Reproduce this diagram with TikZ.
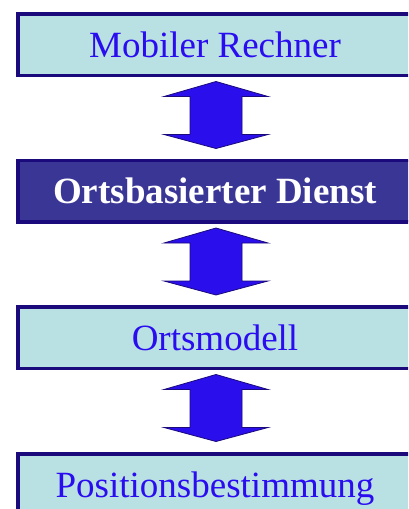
\documentclass[tikz,border=0pt]{standalone}
\usepackage{fontspec}
\setmainfont{Liberation Serif}
\usetikzlibrary{calc}
\definecolor{boxfill}{HTML}{B9E0E3}
\definecolor{boxline}{HTML}{1A0A7C}
\definecolor{txtblue}{HTML}{2A0CF0}
\definecolor{darkfill}{HTML}{3A3696}
\definecolor{arrfill}{HTML}{2A0EEC}
\tikzset{
  layer/.style={draw=boxline, line width=3.5pt, fill=boxfill, text=txtblue,
    minimum width=394.5pt, minimum height=61.5pt, inner sep=0pt,
    text height=25pt, text depth=0pt,
    font=\fontsize{37}{40}\selectfont},
  darklayer/.style={layer, fill=darkfill, text=white,
    font=\fontsize{37}{40}\selectfont\bfseries},
  dblarrow/.style={draw=boxline, line width=0.8pt, fill=arrfill, line join=miter}
}
\newcommand{\updown}[1]{%
  \draw[dblarrow] ($(#1.south)+(1,4.5)$) -- ++(52,15) -- ++(-26,0) -- ++(0,38)
    -- ++(26,0) -- ++(-52,14) -- ++(-52,-14) -- ++(26,0) -- ++(0,-38)
    -- ++(-26,0) -- cycle;}
\begin{document}
\begin{tikzpicture}[x=1pt, y=-1pt]
\useasboundingbox (0,0) rectangle (408,509);
\clip (0,0) rectangle (408,509);
\node[layer] (mobil) at (215,44.5) {Mobiler Rechner};
\node[darklayer] (dienst) at (215,191) {Ortsbasierter Dienst};
\node[layer] (modell) at (215,337.5) {Ortsmodell};
\node[layer] (pos) at (215,484.5) {Positionsbestimmung};
\updown{mobil}
\updown{dienst}
\updown{modell}
\end{tikzpicture}
\end{document}
